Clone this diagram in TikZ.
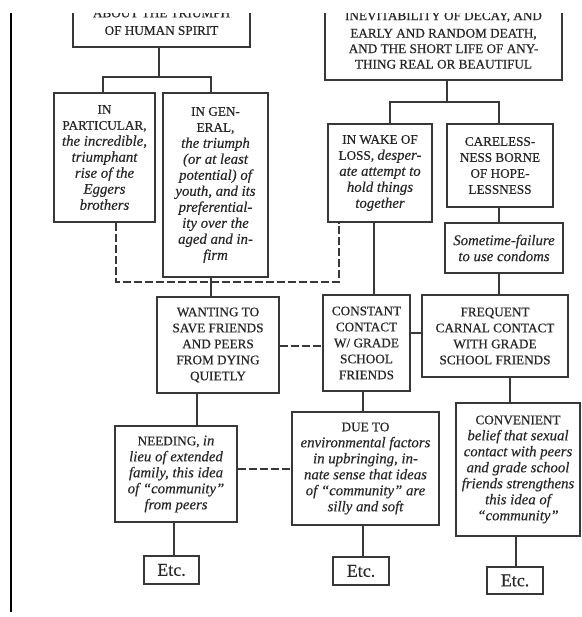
\documentclass[tikz,border=0pt]{standalone}
\usepackage{fontspec}
\setmainfont{Liberation Serif}
\definecolor{ink}{HTML}{262626}
\definecolor{linec}{HTML}{383838}
\newcommand\capsz{\fontsize{13.2}{16}\selectfont\addfontfeature{FakeBold=0.5}}
\newcommand\itz{\fontsize{14.8}{16}\selectfont\itshape\addfontfeature{FakeBold=0.3}}
\newcommand\ii[1]{{\itz #1}}
\tikzset{
  box/.style={draw=linec, line width=1.3pt, inner sep=0pt, align=center, text=ink, font=\capsz},
  topbox/.style={box, font=\fontsize{13.2}{15.5}\selectfont\addfontfeature{FakeBold=0.5}},
  etcbox/.style={draw=linec, line width=1.3pt, inner sep=0pt, text=ink, font=\fontsize{18}{20}\selectfont\addfontfeature{FakeBold=0.2}},
  conn/.style={draw=linec, line width=1.3pt},
  dconn/.style={conn, dash pattern=on 8pt off 3pt}
}
\begin{document}
\begin{tikzpicture}[x=1pt,y=-1pt]
\useasboundingbox (0,0) rectangle (581,617);
\begin{scope}
\clip (0,14) rectangle (581,617);
\draw[line width=2pt, black] (11,13) -- (11,612);
% top boxes
\node[topbox, minimum width=177pt, minimum height=50.4pt] (TL) at (161.5,21.8) {ABOUT THE TRIUMPH\\[2pt]OF HUMAN SPIRIT};
\node[topbox, minimum width=237pt, minimum height=80pt] (TR) at (443.5,40) {INEVITABILITY OF DECAY, AND\\[2pt]EARLY AND RANDOM DEATH,\\AND THE SHORT LIFE OF ANY-\\THING REAL OR BEAUTIFUL};
% second row
\node[box, minimum width=101pt, minimum height=129pt] (A) at (104.5,157.5) {IN\\PARTICULAR,\\\ii{the incredible,}\\\ii{triumphant}\\\ii{rise of the}\\\ii{Eggers}\\\ii{brothers}};
\node[box, minimum width=105pt, minimum height=184pt] (B) at (215.5,185) {IN GEN-\\ERAL,\\\ii{the triumph}\\\ii{(or at least}\\\ii{potential) of}\\\ii{youth, and its}\\\ii{preferential-}\\\ii{ity over the}\\\ii{aged and in-}\\\ii{firm}};
\node[box, minimum width=104pt, minimum height=98pt] (C) at (380,173) {IN WAKE OF\\LOSS, \ii{desper-}\\\ii{ate attempt to}\\\ii{hold things}\\\ii{together}};
\node[box, minimum width=106pt, minimum height=83pt] (D) at (500,165.5) {CARELESS-\\NESS BORNE\\OF HOPE-\\LESSNESS};
\node[box, minimum width=118pt, minimum height=50pt] (E) at (504,248) {\ii{Sometime-failure}\\\ii{to use condoms}};
% third row
\node[box, minimum width=122pt, minimum height=96pt] (W) at (218,345) {WANTING TO\\SAVE FRIENDS\\AND PEERS\\FROM DYING\\QUIETLY};
\node[box, minimum width=87pt, minimum height=96pt] (K) at (366.5,343) {CONSTANT\\CONTACT\\W/ GRADE\\SCHOOL\\FRIENDS};
\node[box, minimum width=146pt, minimum height=82pt] (F) at (495,336) {FREQUENT\\CARNAL CONTACT\\WITH GRADE\\SCHOOL FRIENDS};
% fourth row
\node[box, minimum width=122pt, minimum height=96pt] (N) at (176,474) {NEEDING, \ii{in}\\\ii{lieu of extended}\\\ii{family, this idea}\\\ii{of “community”}\\\ii{from peers}};
\node[box, minimum width=147pt, minimum height=113pt] (U) at (365.5,468.5) {DUE TO\\\ii{environmental factors}\\\ii{in upbringing, in-}\\\ii{nate sense that ideas}\\\ii{of “community” are}\\\ii{silly and soft}};
\node[box, minimum width=124pt, minimum height=133pt] (V) at (518,469.5) {CONVENIENT\\\ii{belief that sexual}\\\ii{contact with peers}\\\ii{and grade school}\\\ii{friends strengthens}\\\ii{this idea of}\\\ii{“community”}};
% Etc boxes
\node[etcbox, minimum width=55pt, minimum height=28pt] (E1) at (171.5,570) {Etc.};
\node[etcbox, minimum width=56pt, minimum height=28pt] (E2) at (361,571) {Etc.};
\node[etcbox, minimum width=56pt, minimum height=27pt] (E3) at (515,580.5) {Etc.};
% connectors
\coordinate (tlj) at (159,77);
\coordinate (trj) at (447,102);
\coordinate (dj) at (339,282);
\draw[conn] (TL.south -| tlj) -- (tlj);
\draw[conn] (A.north -| 103,0) |- (tlj) -| (B.north -| 211,0);
\draw[conn] (TR.south -| trj) -- (trj);
\draw[conn] (C.north -| 390,0) |- (trj) -| (D.north -| 499,0);
\draw[conn] (D.south -| 499,0) -- (E.north -| 499,0);
\draw[conn] (E.south -| 499,0) -- (F.north -| 499,0);
\draw[conn] (C.south -| 374,0) -- (K.north -| 374,0);
\draw[dconn] (A.south -| 116,0) |- (dj) -| (C.south -| 339,0);
\draw[conn] (B.south -| 211,0) -- (W.north -| 211,0);
\draw[dconn] (W.east |- 0,346) -- (K.west |- 0,346);
\draw[conn] (K.east |- 0,333) -- (F.west |- 0,333);
\draw[conn] (W.south -| 197,0) -- (N.north -| 197,0);
\draw[conn] (K.south -| 363,0) -- (U.north -| 363,0);
\draw[conn] (F.south -| 510,0) -- (V.north -| 510,0);
\draw[dconn] (N.east |- 0,469) -- (U.west |- 0,469);
\draw[conn] (N.south -| 174,0) -- (E1.north -| 174,0);
\draw[conn] (U.south -| 363,0) -- (E2.north -| 363,0);
\draw[conn] (V.south -| 516,0) -- (E3.north -| 516,0);
\end{scope}
\end{tikzpicture}
\end{document}
